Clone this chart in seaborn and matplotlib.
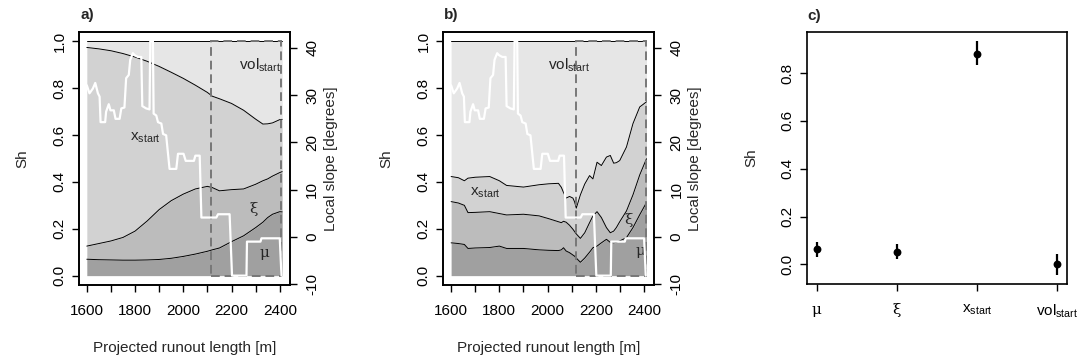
import numpy as np
import matplotlib
matplotlib.use("Agg")
import matplotlib.pyplot as plt
from matplotlib.patches import Rectangle
import seaborn as sns

# ---------------- data ----------------
# local slope along the profile (degrees)
slope_x = [1600, 1611, 1625, 1635, 1646, 1653, 1657, 1676, 1680, 1691, 1698, 1712,
           1719, 1736, 1743, 1756, 1763, 1774, 1780, 1791, 1798, 1812, 1826, 1830,
           1846, 1860, 1863, 1874, 1877, 1888, 1895, 1909, 1916, 1929, 1943, 1971,
           1978, 2001, 2010, 2044, 2050, 2068, 2075, 2137, 2144, 2192, 2202, 2262,
           2264, 2320, 2324, 2400, 2407]
slope_deg = [32.1, 30.4, 31.4, 32.6, 30.4, 29.7, 24.3, 24.3, 26.5, 28.1, 26.8, 26.8,
             25.0, 25.0, 27.2, 27.4, 33.6, 34.3, 37.5, 38.9, 38.5, 38.1, 38.1, 27.7,
             27.2, 27.0, 41.4, 41.4, 26.1, 25.7, 24.3, 24.0, 21.8, 21.5, 14.4, 14.4,
             17.6, 17.6, 16.1, 16.1, 17.2, 17.2, 4.1, 4.1, 4.8, 4.8, -8.2, -8.2,
             -1.0, -1.0, -0.3, -0.3, -8.2]

# panel a: cumulative Sobol indices (mu, mu+xi, mu+xi+x_start; vol_start fills to 1)
a_x = [1600, 1650, 1700, 1750, 1800, 1850, 1900, 1950, 2000, 2050, 2100, 2120,
       2150, 2200, 2250, 2300, 2330, 2350, 2370, 2400, 2410]
a_mu = [0.070, 0.068, 0.067, 0.066, 0.066, 0.067, 0.069, 0.074, 0.082, 0.092, 0.104,
        0.110, 0.118, 0.145, 0.170, 0.205, 0.228, 0.248, 0.262, 0.273, 0.272]
a_mu_xi = [0.126, 0.137, 0.148, 0.163, 0.190, 0.233, 0.282, 0.320, 0.348, 0.370, 0.381,
           0.376, 0.362, 0.367, 0.370, 0.390, 0.405, 0.413, 0.425, 0.440, 0.444]
a_mu_xi_xs = [0.974, 0.968, 0.960, 0.948, 0.933, 0.915, 0.893, 0.868, 0.842, 0.813,
              0.782, 0.766, 0.755, 0.735, 0.706, 0.668, 0.647, 0.648, 0.652, 0.666, 0.667]

# panel b
b_x = [1600, 1630, 1655, 1670, 1700, 1760, 1800, 1830, 1900, 1965, 2005, 2045, 2057,
       2066, 2077, 2091, 2105, 2112, 2119, 2136, 2154, 2174, 2188, 2205, 2223, 2244,
       2260, 2274, 2285, 2299, 2327, 2354, 2382, 2410]
b_mu = [0.140, 0.137, 0.133, 0.116, 0.118, 0.120, 0.126, 0.116, 0.116, 0.110, 0.108,
        0.107, 0.110, 0.119, 0.105, 0.098, 0.088, 0.083, 0.075, 0.057, 0.075, 0.100,
        0.119, 0.126, 0.140, 0.155, 0.142, 0.140, 0.142, 0.148, 0.162, 0.205, 0.260, 0.312]
b_mu_xi = [0.316, 0.310, 0.300, 0.269, 0.270, 0.273, 0.265, 0.259, 0.262, 0.255, 0.243,
           0.230, 0.226, 0.232, 0.228, 0.215, 0.198, 0.188, 0.178, 0.159, 0.183, 0.226,
           0.255, 0.273, 0.248, 0.205, 0.183, 0.190, 0.205, 0.230, 0.276, 0.345, 0.430, 0.499]
b_mu_xi_xs = [0.423, 0.418, 0.405, 0.416, 0.420, 0.423, 0.405, 0.385, 0.378, 0.388,
              0.392, 0.394, 0.377, 0.355, 0.331, 0.338, 0.331, 0.315, 0.288, 0.345,
              0.391, 0.427, 0.413, 0.484, 0.470, 0.506, 0.513, 0.480, 0.482, 0.491,
              0.549, 0.649, 0.720, 0.742]

# panel c: overall Sobol indices with intervals
c_params = ["mu", "xi", "x_start", "vol_start"]
c_labels = ["\u03bc", "\u03be", r"x$_{\mathregular{start}}$", r"vol$_{\mathregular{start}}$"]
c_sh = [0.065, 0.053, 0.880, 0.003]
c_lo = [0.032, 0.021, 0.832, -0.044]
c_hi = [0.094, 0.087, 0.932, 0.042]

window = (2116, 2407)
x_ticks = list(range(1600, 2401, 100))
x_ticklabels = ["1600", "", "1800", "", "2000", "", "2200", "", "2400"]
sh_ticks = [0.0, 0.2, 0.4, 0.6, 0.8, 1.0]
sh_ticklabels = ["0.0", "0.2", "0.4", "0.6", "0.8", "1.0"]
slope_ticks = [-10, 0, 10, 20, 30, 40]
c_yticks = [0.0, 0.2, 0.4, 0.6, 0.8]

# ---------------- style ----------------
sns.set_theme(style="ticks")
plt.rcParams["font.family"] = ["Liberation Sans", "DejaVu Sans"]
plt.rcParams["mathtext.fontset"] = "custom"
plt.rcParams["mathtext.rm"] = "Liberation Sans"
plt.rcParams["mathtext.it"] = "Liberation Sans:italic"
plt.rcParams["mathtext.bf"] = "Liberation Sans:bold"
plt.rcParams["axes.unicode_minus"] = True

FS = 11
col_mu, col_xi, col_xs, col_vol = "#a0a0a0", "#bcbcbc", "#d2d2d2", "#e6e6e6"

fig = plt.figure(figsize=(10.78, 3.63), dpi=100)
W, H = 1078, 363


def axes_at(l, t, r, b):
    return fig.add_axes([l / W, 1 - b / H, (r - l) / W, (b - t) / H])


def style_box(ax):
    for s in ax.spines.values():
        s.set_visible(True)
        s.set_linewidth(1.2)
        s.set_color("black")
    ax.set_facecolor("white")
    ax.grid(False)


def sens_panel(ax, x, mu, muxi, muxixs, letter, lab_pos):
    x = np.asarray(x)
    zero = np.zeros_like(x, dtype=float)
    one = np.ones_like(x, dtype=float)
    mu, muxi, muxixs = map(np.asarray, (mu, muxi, muxixs))
    for lo, hi, c in [(zero, mu, col_mu), (mu, muxi, col_xi),
                      (muxi, muxixs, col_xs), (muxixs, one, col_vol)]:
        ax.fill_between(x, lo, hi, color=c, lw=0, zorder=1)
    for y in (mu, muxi, muxixs, one):
        sns.lineplot(x=x, y=y, ax=ax, color="black", lw=0.7,
                     sort=False, estimator=None, zorder=2)
    ax.add_patch(Rectangle((window[0], 0), window[1] - window[0], 1.0, fill=False,
                           ec="#777777", lw=1.4, ls=(0, (4.5, 2.5)), zorder=3))
    # labels
    (vx, vy), (xx, xy), (kx, ky), (mx, my) = lab_pos
    ax.text(vx, vy, r"vol$_{\mathregular{start}}$", ha="center", va="baseline",
            fontsize=FS, zorder=4)
    ax.text(xx, xy, r"x$_{\mathregular{start}}$", ha="center", va="baseline",
            fontsize=FS, zorder=4)
    ax.text(kx, ky, "\u03be", ha="center", va="center", fontsize=FS,
            family="DejaVu Serif", zorder=4)
    ax.text(mx, my, "\u03bc", ha="center", va="center", fontsize=FS,
            family="DejaVu Serif", zorder=4)

    ax.set_xlim(1567.6, 2442.4)
    ax.set_ylim(-0.04, 1.04)
    ax.set_xticks(x_ticks)
    ax.set_xticklabels(x_ticklabels)
    ax.set_yticks(sh_ticks)
    ax.set_yticklabels(sh_ticklabels)
    ax.tick_params(axis="both", direction="out", length=5, width=1.0,
                   labelsize=FS, colors="black")
    ax.tick_params(axis="x", pad=8.5)
    ax.tick_params(axis="y", labelrotation=90, pad=4)
    for t in ax.get_yticklabels():
        t.set_va("center")
    ax.set_xlabel("Projected runout length [m]", fontsize=FS)
    ax.set_ylabel("Sh", fontsize=FS)
    ax.xaxis.set_label_coords(0.5, -0.22)
    ax.yaxis.set_label_coords(-0.235, 0.5)
    style_box(ax)
    ax.text(0.005, 1.05, letter, transform=ax.transAxes, fontsize=FS,
            fontweight="bold", ha="left", va="baseline")

    ax2 = ax.twinx()
    sns.lineplot(x=slope_x, y=slope_deg, ax=ax2, color="white", lw=1.6,
                 sort=False, estimator=None)
    lo, hi = min(slope_deg), max(slope_deg)
    r = hi - lo
    ax2.set_ylim(lo - 0.04 * r, hi + 0.04 * r)
    ax2.set_yticks(slope_ticks)
    ax2.set_yticklabels([str(v) for v in slope_ticks])
    ax2.tick_params(axis="y", direction="out", length=5, width=1.0, labelsize=FS,
                    labelrotation=90, pad=6, colors="black")
    for t in ax2.get_yticklabels():
        t.set_va("center")
    ax2.set_ylabel("Local slope [degrees]", fontsize=FS)
    ax2.yaxis.set_label_coords(1.16, 0.5)
    ax2.set_xlim(1567.6, 2442.4)
    ax2.grid(False)
    for s in ax2.spines.values():
        s.set_linewidth(1.2)
        s.set_color("black")
    return ax2


ax_a = axes_at(79, 32, 290, 285)
ax_b = axes_at(443.3, 32, 654.3, 285)
ax_c = axes_at(807.3, 32.3, 1066.7, 284)

sens_panel(ax_a, a_x, a_mu, a_mu_xi, a_mu_xi_xs, "a)",
           [(2318, 0.878), (1843, 0.577), (2293, 0.285), (2337, 0.097)])
sens_panel(ax_b, b_x, b_mu, b_mu_xi, b_mu_xi_xs, "b)",
           [(2091, 0.878), (1740, 0.341), (2335, 0.238), (2383, 0.105)])

# ---------------- panel c ----------------
pos = np.arange(1, len(c_params) + 1)
ax_c.vlines(pos, c_lo, c_hi, color="black", lw=1.6, zorder=2)
sns.scatterplot(x=pos, y=c_sh, ax=ax_c, color="black", s=32, edgecolor="black",
                linewidth=0, zorder=3)
ax_c.set_xlim(0.88, 4.12)
ax_c.set_ylim(-0.082, 0.970)
ax_c.set_xticks(pos)
ax_c.set_xticklabels(c_labels)
for i, t in enumerate(ax_c.get_xticklabels()):
    if i < 2:
        t.set_family("DejaVu Serif")
ax_c.set_yticks(c_yticks)
ax_c.set_yticklabels(["0.0", "0.2", "0.4", "0.6", "0.8"])
ax_c.tick_params(axis="both", direction="out", length=5, width=1.0, labelsize=FS,
                 colors="black")
ax_c.tick_params(axis="x", pad=8.5)
ax_c.tick_params(axis="y", labelrotation=90, pad=4)
for t in ax_c.get_yticklabels():
    t.set_va("center")
ax_c.set_ylabel("Sh", fontsize=FS)
ax_c.set_xlabel("")
ax_c.yaxis.set_label_coords(-0.19, 0.5)
style_box(ax_c)
ax_c.text(0.0, 1.05, "c)", transform=ax_c.transAxes, fontsize=FS,
          fontweight="bold", ha="left", va="baseline")

fig.savefig("out.png", dpi=100)
